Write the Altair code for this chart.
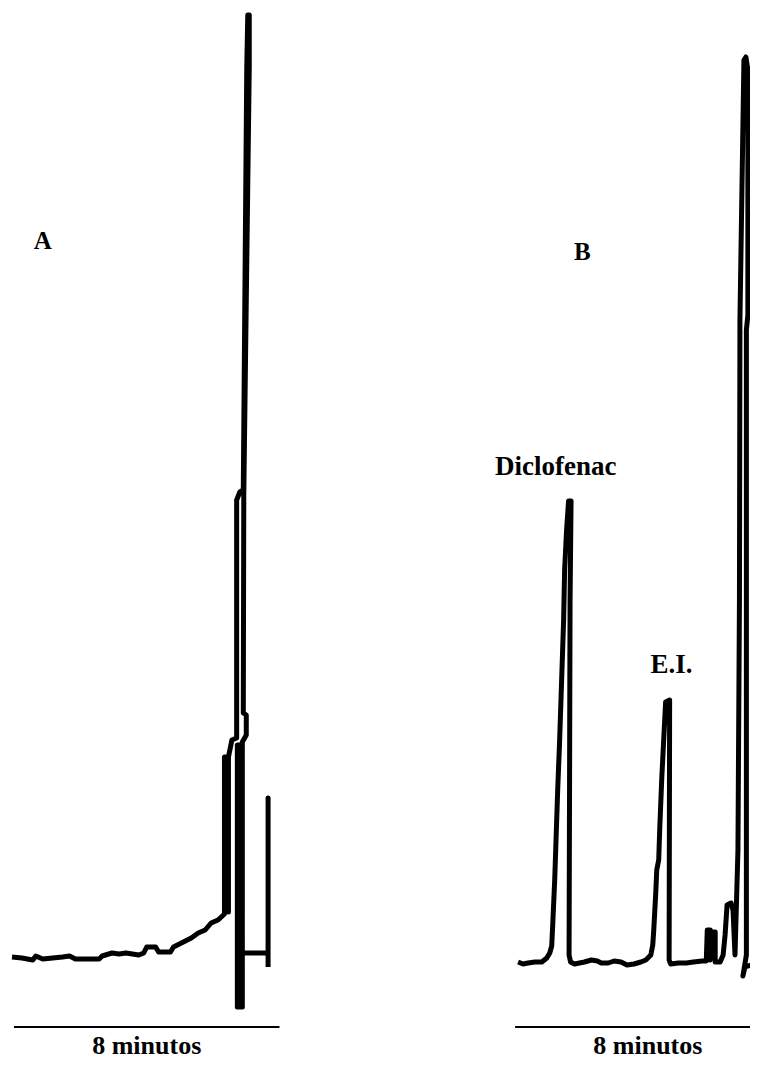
import altair as alt
import pandas as pd

# Chromatogram A (time in minutes, signal in arbitrary units)
A_T = [-0.060, 0.239, 0.567, 0.657, 0.866, 1.164, 1.463, 1.672, 1.851, 2.269,
       2.567, 2.657, 2.955, 3.164, 3.373, 3.761, 3.910, 4.000, 4.269, 4.358,
       4.716, 4.806, 5.045, 5.343, 5.552, 5.761, 5.940, 6.149, 6.343, 6.343,
       6.463, 6.463, 6.463, 6.567, 6.710, 6.710, 6.806, 6.910, 7.015, 7.045,
       7.090, 7.090, 6.925, 6.910, 7.000, 7.000, 6.881, 6.881, 6.731, 6.731,
       6.881, 6.881, 7.612, 7.657, 7.657, 7.657]
A_S = [0.0, -0.1, -0.3, 0.1, -0.2, -0.1, 0.0, 0.1, -0.2, -0.2,
       -0.2, 0.1, 0.4, 0.3, 0.4, 0.2, 0.4, 1.0, 1.0, 0.5,
       0.5, 1.0, 1.4, 1.9, 2.4, 2.7, 3.4, 3.7, 4.3, 20.0,
       20.0, 4.5, 20.0, 21.7, 21.9, 45.7, 46.5, 46.7, 89.0, 94.2,
       94.2, 89.0, 46.2, 24.4, 24.2, 22.2, 21.5, -5.0, -5.0, 21.2,
       21.2, 0.4, 0.4, 0.2, 15.9, -1.0]

# Chromatogram B
B_T = [0.090, 0.239, 0.388, 0.597, 0.806, 0.955, 1.045, 1.104, 1.134, 1.194,
       1.224, 1.284, 1.343, 1.403, 1.463, 1.493, 1.552, 1.612, 1.687, 1.657,
       1.627, 1.672, 1.791, 2.090, 2.299, 2.478, 2.597, 2.806, 2.985, 3.194,
       3.373, 3.582, 3.791, 3.940, 4.090, 4.149, 4.179, 4.239, 4.269, 4.328,
       4.358, 4.418, 4.478, 4.537, 4.657, 4.642, 4.687, 4.925, 5.164, 5.373,
       5.642, 5.761, 5.791, 5.881, 5.881, 5.970, 6.030, 6.030, 6.179, 6.269,
       6.328, 6.388, 6.507, 6.567, 6.627, 6.716, 6.761, 6.776, 6.896, 6.955,
       7.015, 7.015, 6.970, 6.970, 6.866, 6.925, 7.104, 7.313]
B_S = [-0.5, -0.7, -0.6, -0.5, -0.5, -0.1, 0.4, 1.1, 3.2, 7.7,
       10.7, 16.7, 21.7, 27.7, 33.7, 38.7, 42.7, 45.6, 45.6, 35.7,
       0.2, -0.5, -0.7, -0.5, -0.3, -0.4, -0.6, -0.6, -0.4, -0.5,
       -0.8, -0.7, -0.5, -0.3, 0.2, 1.2, 2.7, 6.4, 8.7, 9.7,
       12.7, 17.7, 21.7, 25.5, 25.7, -0.3, -0.7, -0.6, -0.6, -0.5,
       -0.4, -0.4, 2.7, 2.7, -0.3, 2.5, 2.5, -0.5, -0.5, 0.2,
       2.2, 5.2, 5.4, 4.7, 0.2, 10.7, 35.7, 63.7, 89.7, 90.0,
       88.7, 64.2, 62.7, 0.2, -1.9, -1.0, -0.8, -0.8]

PANEL_OFFSET = {"A": 0.0, "B": 15.1}

# 8-minute scale bars
BAR_PANEL = ["A", "B"]
BAR_START = [0.0, 0.0]
BAR_END = [8.0, 8.0]
BAR_S = [-7.0, -7.0]

# Labels
LABEL_TEXT = ["A", "B", "Diclofenac", "E.I.", "8 minutos", "8 minutos"]
LABEL_PANEL = ["A", "B", "B", "B", "A", "B"]
LABEL_T = [0.87, 2.03, 1.224, 4.716, 4.0, 4.0]
LABEL_S = [70.8, 69.7, 48.2, 28.4, -9.7, -9.7]
LABEL_SIZE = [25, 25, 27, 27, 26, 26]

rows = []
for i, (t, s) in enumerate(zip(A_T, A_S)):
    rows.append({"panel": "A", "order": i, "pos": t + PANEL_OFFSET["A"], "signal": s})
for i, (t, s) in enumerate(zip(B_T, B_S)):
    rows.append({"panel": "B", "order": i, "pos": t + PANEL_OFFSET["B"], "signal": s})
trace = pd.DataFrame(rows)

bars = pd.DataFrame({
    "panel": BAR_PANEL,
    "x1": [a + PANEL_OFFSET[p] for a, p in zip(BAR_START, BAR_PANEL)],
    "x2": [b + PANEL_OFFSET[p] for b, p in zip(BAR_END, BAR_PANEL)],
    "signal": BAR_S,
})

labels = pd.DataFrame({
    "text": LABEL_TEXT,
    "pos": [t + PANEL_OFFSET[p] for t, p in zip(LABEL_T, LABEL_PANEL)],
    "signal": LABEL_S,
    "size": LABEL_SIZE,
})

xscale = alt.Scale(domain=[-0.180, 22.179], nice=False, zero=False)
yscale = alt.Scale(domain=[-10.5, 94.9], nice=False, zero=False)

line = alt.Chart(trace).mark_line(
    color="black", strokeWidth=5, strokeJoin="round", clip=True
).encode(
    x=alt.X("pos:Q", scale=xscale, axis=None),
    y=alt.Y("signal:Q", scale=yscale, axis=None),
    detail="panel:N",
    order="order:Q",
)

rules = alt.Chart(bars).mark_rule(color="black", strokeWidth=2, clip=True).encode(
    x=alt.X("x1:Q", scale=xscale, axis=None),
    x2="x2:Q",
    y=alt.Y("signal:Q", scale=yscale, axis=None),
)

text = alt.Chart(labels).mark_text(
    font="Liberation Serif", fontWeight="bold",
    align="center", baseline="alphabetic", color="black",
).encode(
    x=alt.X("pos:Q", scale=xscale, axis=None),
    y=alt.Y("signal:Q", scale=yscale, axis=None),
    text="text:N",
    size=alt.Size("size:Q", scale=None, legend=None),
)

chart = alt.layer(line, rules, text).properties(
    width=742, height=1054, padding=0,
    autosize=alt.AutoSizeParams(type="none"),
    background="white",
).configure_view(strokeWidth=0)

chart.save("out.html", embed_options={"renderer": "svg", "actions": False})
